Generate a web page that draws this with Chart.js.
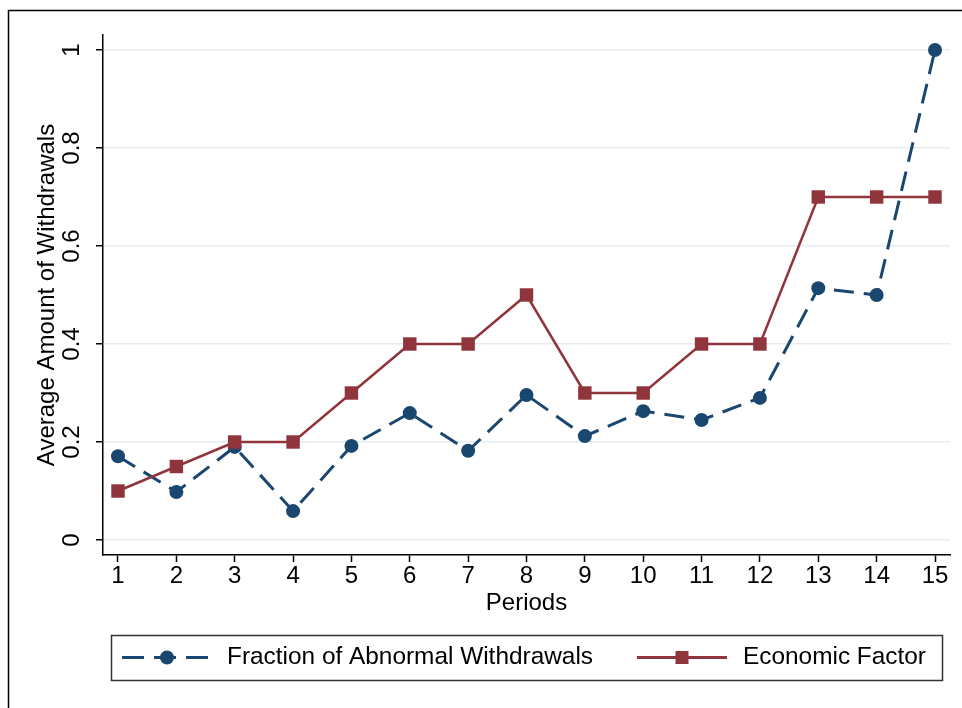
<!DOCTYPE html>
<html>
<head>
<meta charset="utf-8">
<script src="https://cdn.jsdelivr.net/npm/chart.js@4.4.1/dist/chart.umd.min.js"></script>
<style>
  html, body { margin: 0; padding: 0; background: #fff; }
  #wrap { width: 962px; height: 708px; }
</style>
</head>
<body>
<div id="wrap"><canvas id="line-chart" width="962" height="708"></canvas></div>
<script>
var periods = [1, 2, 3, 4, 5, 6, 7, 8, 9, 10, 11, 12, 13, 14, 15];
var abnormalWithdrawals = [0.171, 0.098, 0.190, 0.059, 0.192, 0.259, 0.182, 0.296, 0.212, 0.263, 0.245, 0.290, 0.514, 0.500, 1.000];
var economicFactor = [0.10, 0.15, 0.20, 0.20, 0.30, 0.40, 0.40, 0.50, 0.30, 0.30, 0.40, 0.40, 0.70, 0.70, 0.70];
var yTicks = [0, 0.2, 0.4, 0.6, 0.8, 1];
var yTickLabels = ['0', '0.2', '0.4', '0.6', '0.8', '1'];

var FONT = '"Liberation Sans", Arial, Helvetica, sans-serif';
var blue = '#1a476f';
var red = '#90353b';

function toPoints(vals) {
  return vals.map(function (v, i) { return { x: periods[i], y: v }; });
}

// extra drawing: rotated y labels, y title, outer frame, legend box
var extras = {
  id: 'extras',
  afterDraw: function (chart) {
    var ctx = chart.ctx;
    var ys = chart.scales.y;
    var area = chart.chartArea;
    ctx.save();
    ctx.fillStyle = '#000';
    ctx.textAlign = 'center';
    ctx.textBaseline = 'middle';
    ctx.font = '24px ' + FONT;
    for (var i = 0; i < yTicks.length; i++) {
      var py = ys.getPixelForValue(yTicks[i]);
      ctx.save();
      ctx.translate(72, py);
      ctx.rotate(-Math.PI / 2);
      ctx.fillText(yTickLabels[i], 0, 0);
      ctx.restore();
    }
    ctx.save();
    ctx.translate(47, (area.top + area.bottom) / 2);
    ctx.rotate(-Math.PI / 2);
    ctx.fillText('Average Amount of Withdrawals', 0, 0);
    ctx.restore();

    // outer frame
    ctx.strokeStyle = '#000';
    ctx.lineWidth = 1.5;
    ctx.strokeRect(8.5, 10.5, 1000, 1000);

    // legend
    ctx.strokeStyle = '#333';
    ctx.lineWidth = 1.5;
    ctx.strokeRect(111.5, 635.5, 831, 45);
    var ly = 657.5;
    ctx.lineWidth = 3;
    ctx.strokeStyle = blue;
    ctx.setLineDash([22, 10]);
    ctx.beginPath(); ctx.moveTo(122, ly); ctx.lineTo(208, ly); ctx.stroke();
    ctx.setLineDash([]);
    ctx.fillStyle = blue;
    ctx.beginPath(); ctx.arc(167, ly, 7, 0, Math.PI * 2); ctx.fill();
    ctx.strokeStyle = red;
    ctx.beginPath(); ctx.moveTo(637, ly); ctx.lineTo(727, ly); ctx.stroke();
    ctx.fillStyle = red;
    ctx.fillRect(675.5, ly - 6.5, 13, 13);
    ctx.fillStyle = '#000';
    ctx.textAlign = 'left';
    ctx.font = '24.4px ' + FONT;
    ctx.fillText('Fraction of Abnormal Withdrawals', 227, ly);
    ctx.fillText('Economic Factor', 743, ly);
    ctx.restore();
  }
};

new Chart(document.getElementById('line-chart'), {
  type: 'line',
  data: {
    datasets: [{
      label: 'Fraction of Abnormal Withdrawals',
      data: toPoints(abnormalWithdrawals),
      borderColor: blue,
      backgroundColor: blue,
      borderWidth: 3,
      borderDash: [20, 10],
      pointStyle: 'circle',
      pointRadius: 7,
      pointBorderWidth: 0,
      tension: 0,
      fill: false,
      order: 1
    }, {
      label: 'Economic Factor',
      data: toPoints(economicFactor),
      borderColor: red,
      backgroundColor: red,
      borderWidth: 2.5,
      pointStyle: 'rect',
      pointRadius: 9.5,
      pointBorderWidth: 0,
      tension: 0,
      fill: false,
      order: 0
    }]
  },
  options: {
    responsive: false,
    animation: false,
    layout: { padding: { top: 35, right: 12, bottom: 90, left: 0 } },
    plugins: {
      legend: { display: false },
      tooltip: { enabled: false }
    },
    scales: {
      x: {
        type: 'linear',
        min: 0.743,
        max: 15.257,
        afterBuildTicks: function (s) { s.ticks = periods.map(function (p) { return { value: p }; }); },
        afterFit: function (s) { s.height = 63; },
        grid: { drawOnChartArea: false, drawTicks: true, tickLength: 7, tickColor: '#000', tickWidth: 1.5 },
        border: { display: true, color: '#000', width: 1.5 },
        ticks: { color: '#000', font: { family: FONT, size: 24 }, padding: 0, maxRotation: 0, autoSkip: false },
        title: { display: true, text: 'Periods', color: '#000', font: { family: FONT, size: 24 }, padding: 0 }
      },
      y: {
        type: 'linear',
        min: -0.0306,
        max: 1.0306,
        afterBuildTicks: function (s) { s.ticks = yTicks.map(function (v) { return { value: v }; }); },
        afterFit: function (s) { s.width = 103; },
        grid: { color: '#e3ecf0', lineWidth: 1.5, drawTicks: true, tickLength: 7, tickColor: '#000', tickWidth: 1.5 },
        border: { display: true, color: '#000', width: 1.5 },
        ticks: { display: false }
      }
    }
  },
  plugins: [extras]
});
</script>
</body>
</html>
